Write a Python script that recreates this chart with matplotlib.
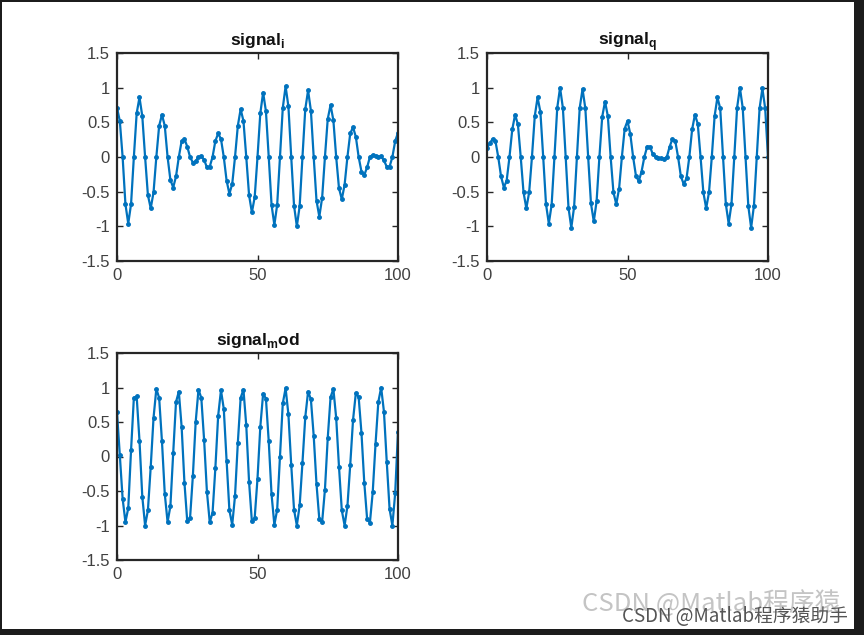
import matplotlib
matplotlib.use('Agg')
import matplotlib.pyplot as plt
from matplotlib.patches import Rectangle

plt.rcParams['font.family'] = ['Liberation Sans', 'DejaVu Sans']
plt.rcParams['mathtext.fontset'] = 'custom'
plt.rcParams['mathtext.bf'] = 'Liberation Sans:bold'
plt.rcParams['mathtext.rm'] = 'Liberation Sans'

# sample index 0..100
n = list(range(101))

signal_i = [0.71, 0.52, 0, -0.68, -0.96, -0.68, 0, 0.63, 0.86, 0.59,
            0, -0.55, -0.74, -0.51, 0, 0.45, 0.61, 0.45, 0, -0.33,
            -0.44, -0.28, 0, 0.23, 0.26, 0.15, 0, -0.08, -0.06, 0,
            0.01, -0.04, -0.15, -0.14, 0, 0.23, 0.34, 0.26, 0, -0.34,
            -0.53, -0.39, 0, 0.45, 0.69, 0.52, 0, -0.55, -0.80, -0.58,
            0, 0.63, 0.93, 0.66, 0, -0.69, -0.98, -0.69, 0, 0.71,
            1.02, 0.73, 0, -0.70, -1.0, -0.71, 0, 0.69, 0.96, 0.67,
            0, -0.63, -0.86, -0.59, 0, 0.55, 0.75, 0.53, 0, -0.45,
            -0.61, -0.40, 0, 0.34, 0.43, 0.29, 0, -0.21, -0.26, -0.15,
            0, 0.03, 0.01, 0, 0.01, -0.05, -0.14, -0.14, 0, 0.23,
            0.35]

signal_q = [0.13, 0.20, 0.26, 0.23, 0, -0.28, -0.44, -0.34, 0, 0.40,
            0.61, 0.47, 0, -0.51, -0.74, -0.51, 0, 0.59, 0.86, 0.65,
            0, -0.68, -0.96, -0.69, 0, 0.71, 1.0, 0.71, 0, -0.73,
            -1.02, -0.72, 0, 0.71, 0.98, 0.70, 0, -0.67, -0.93, -0.64,
            0, 0.58, 0.80, 0.59, 0, -0.51, -0.68, -0.46, 0, 0.41,
            0.52, 0.33, 0, -0.27, -0.35, -0.21, 0, 0.15, 0.15, 0.04,
            0, -0.01, -0.02, -0.03, 0, 0.15, 0.26, 0.23, 0, -0.28,
            -0.39, -0.31, 0, 0.40, 0.61, 0.48, 0, -0.51, -0.74, -0.51,
            0, 0.59, 0.86, 0.70, 0, -0.68, -0.96, -0.68, 0, 0.71,
            1.0, 0.71, 0, -0.71, -1.02, -0.70, 0, 0.70, 0.99, 0.70,
            0]

signal_mod = [0.64, 0.02, -0.61, -0.95, -0.75, 0.09, 0.85, 0.87, 0.23, -0.58,
              -1.0, -0.78, -0.15, 0.56, 0.98, 0.85, 0.22, -0.54, -0.95, -0.72,
              0.05, 0.79, 0.94, 0.43, -0.38, -0.94, -0.89, -0.28, 0.5, 0.97,
              0.85, 0.24, -0.51, -0.95, -0.82, -0.17, 0.59, 0.96, 0.69, -0.06,
              -0.78, -0.99, -0.57, 0.2, 0.85, 0.97, 0.45, -0.37, -0.94, -0.89,
              -0.32, 0.43, 0.91, 0.84, 0.22, -0.55, -0.99, -0.77, 0, 0.77,
              0.99, 0.61, -0.12, -0.77, -1.0, -0.71, -0.09, 0.57, 0.94, 0.83,
              0.30, -0.40, -0.91, -0.95, -0.48, 0.27, 0.86, 0.98, 0.56, -0.15,
              -0.78, -1.0, -0.72, -0.12, 0.53, 0.92, 0.86, 0.34, -0.38, -0.90,
              -0.96, -0.52, 0.18, 0.79, 1.0, 0.65, -0.08, -0.76, -1.0, -0.53,
              0.36]

y_ticks = [-1.5, -1, -0.5, 0, 0.5, 1, 1.5]
y_labels = ['-1.5', '-1', '-0.5', '0', '0.5', '1', '1.5']
x_ticks = [0, 50, 100]
x_labels = ['0', '50', '100']

W, H = 864, 635
fig = plt.figure(figsize=(W / 100, H / 100), dpi=100, facecolor='#1c1c1c')
# white page inside the dark screenshot frame
fig.patches.append(Rectangle((2 / W, 6 / H), 852 / W, 627 / H, transform=fig.transFigure,
                             facecolor='white', edgecolor='none', zorder=-10))

blue = '#0072BD'
panels = [
    ((117, 53, 281, 208), signal_i, r'signal$_\mathbf{i}$'),
    ((487, 53, 281, 208), signal_q, r'signal$_\mathbf{q}$'),
    ((117, 353, 281, 207), signal_mod, r'signal$_\mathbf{m}$od'),
]

for (left, top, w, h), data, title in panels:
    ax = fig.add_axes([left / W, 1 - (top + h) / H, w / W, h / H])
    ax.plot(n, data, '.-', color=blue, linewidth=1.6, markersize=5)
    ax.set_xlim(0, 100)
    ax.set_ylim(-1.5, 1.5)
    ax.set_xticks(x_ticks)
    ax.set_xticklabels(x_labels)
    ax.set_yticks(y_ticks)
    ax.set_yticklabels(y_labels)
    ax.tick_params(direction='in', length=4, width=1, color='#262626',
                   labelcolor='#404040', labelsize=12, top=True, right=True, pad=5)
    for s in ax.spines.values():
        s.set_linewidth(1.6)
        s.set_color('#262626')
    ax.set_title(title, fontsize=12.5, fontweight='bold', color='#111111', pad=6)

# watermark (the two marks overlap in the source screenshot as well)
fig.text(840 / W, 1 - 604 / H, 'CSDN @Matlab程序猿', fontsize=18.5, color='#c4c4c4',
         ha='right', va='center', family=['Noto Sans CJK SC', 'DejaVu Sans'])
fig.text(848 / W, 1 - 617 / H, 'CSDN @Matlab程序猿助手', fontsize=13.5, color='#555555',
         ha='right', va='center', family=['Noto Sans CJK SC', 'DejaVu Sans'])

fig.savefig('out.png', dpi=100, facecolor=fig.get_facecolor())
